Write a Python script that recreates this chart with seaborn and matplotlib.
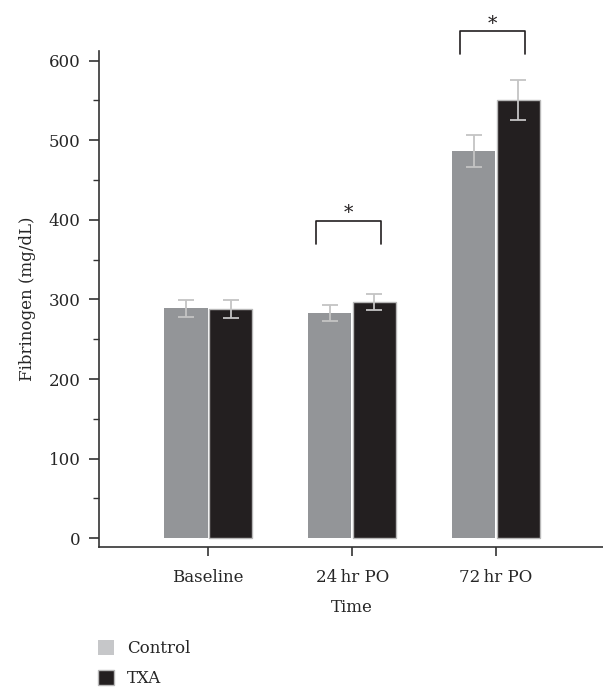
import matplotlib
matplotlib.use("Agg")
import matplotlib.pyplot as plt
import matplotlib.patches as mpatches
import seaborn as sns
import pandas as pd

# values
times = ["Baseline", "24\u2009hr PO", "72\u2009hr PO"]
groups = ["Control", "TXA"]
control_mean = [289, 283, 486]
control_err = [10.5, 10, 20]
txa_mean = [288, 297, 550]
txa_err = [11, 10, 25]
sig_times = [1, 2]          # categories with a significance bracket
sig_heights = [369, 608]    # bottom of bracket legs
sig_tops = [399, 637]       # bracket top line

df = pd.DataFrame({
    "Time": times * 2,
    "Group": [groups[0]] * 3 + [groups[1]] * 3,
    "Fibrinogen": control_mean + txa_mean,
})
errs = {"Control": control_err, "TXA": txa_err}

sns.set_style("ticks")
plt.rcParams["font.family"] = ["DejaVu Serif"]

colors = {"Control": "#939598", "TXA": "#231f20"}
fig = plt.figure(figsize=(6.03, 6.89), dpi=100)
ax = fig.add_axes([0.164, 0.206, 0.84, 0.72])

sns.barplot(data=df, x="Time", y="Fibrinogen", hue="Group", order=times,
            hue_order=groups, palette=colors, errorbar=None, width=0.62,
            gap=0.03, saturation=1, legend=False, ax=ax)

for cont, g in zip(ax.containers, groups):
    xs, ys = [], []
    for bar in cont:
        if g == "TXA":
            bar.set_edgecolor("#b8b8b8")
            bar.set_linewidth(1.0)
        else:
            bar.set_edgecolor("none")
        xs.append(bar.get_x() + bar.get_width() / 2)
        ys.append(bar.get_height())
    ax.errorbar(xs, ys, yerr=errs[g], fmt="none", ecolor="#c4c4c4",
                elinewidth=1.3, capsize=5.8, capthick=1.3, zorder=5)

# significance brackets
for i, lo, hi in zip(sig_times, sig_heights, sig_tops):
    x0, x1 = i - 0.25, i + 0.2
    ax.plot([x0, x0, x1, x1], [lo, hi, hi, lo], color="#231f20", lw=1.2,
            clip_on=False)
    ax.text((x0 + x1) / 2, hi + 3, "*", ha="center", va="baseline",
            fontsize=13.5, color="#231f20", clip_on=False)

ax.set_ylim(-11, 612)
ax.set_xlim(-0.76, 2.76)
ax.set_yticks([0, 100, 200, 300, 400, 500, 600])
ax.set_yticks([50, 150, 250, 350, 450, 550], minor=True)
ax.tick_params(axis="y", which="major", length=7.2, width=1.2, labelsize=12,
               color="#333333", pad=6)
ax.tick_params(axis="y", which="minor", length=4, width=1.0, color="#333333")
ax.tick_params(axis="x", length=6.5, width=1.2, labelsize=12,
               color="#333333", pad=9)
ax.set_xlabel("Time", fontsize=12, labelpad=10)
ax.set_ylabel("Fibrinogen (mg/dL)", fontsize=12, labelpad=9)
for s in ["top", "right"]:
    ax.spines[s].set_visible(False)
for s in ["left", "bottom"]:
    ax.spines[s].set_color("#333333")
    ax.spines[s].set_linewidth(1.2)

handles = [mpatches.Patch(facecolor="#c6c7c9", edgecolor="none", label="Control"),
           mpatches.Patch(facecolor="#231f20", edgecolor="#b8b8b8", label="TXA")]
fig.legend(handles=handles, loc="upper left", bbox_to_anchor=(0.162, 0.071),
           frameon=False, fontsize=12, handlelength=1.0, handleheight=1.0,
           handletextpad=0.75, labelspacing=0.75, borderaxespad=0,
           borderpad=0)

fig.savefig("out.png", dpi=100)
